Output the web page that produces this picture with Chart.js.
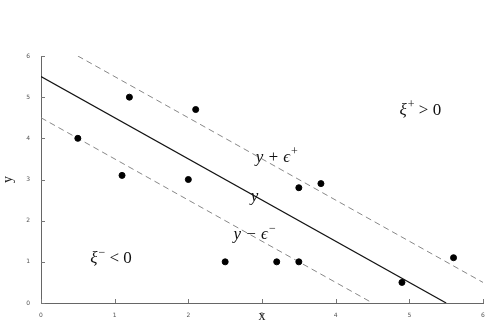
<!DOCTYPE html>
<html><head><meta charset="utf-8">
<script src="https://cdn.jsdelivr.net/npm/chart.js@4/dist/chart.umd.min.js"></script>
<style>html,body{margin:0;padding:0;background:#fff}#wrap{width:487px;height:324px}</style>
</head><body><div id="wrap"><canvas id="c" width="487" height="324"></canvas></div>
<script>
const pointsX = [0.5, 1.1, 1.2, 2.0, 2.1, 2.5, 3.2, 3.5, 3.5, 3.8, 4.9, 5.6];
const pointsY = [4.0, 3.1, 5.0, 3.0, 4.7, 1.0, 1.0, 1.0, 2.8, 2.9, 0.5, 1.1];
const regX = [0, 5.5];      const regY = [5.5, 0];
const upperX = [0.5, 6];    const upperY = [6, 0.5];
const lowerX = [0, 4.5];    const lowerY = [4.5, 0];
const xTicks = [0, 1, 2, 3, 4, 5, 6];
const yTicks = [0, 1, 2, 3, 4, 5, 6];
const labels = [
  {base: 'y + ϵ', sup: '+', x: 3.2, y: 3.55},
  {base: 'y', sup: '', x: 2.9, y: 2.6},
  {base: 'y − ϵ', sup: '−', x: 2.9, y: 1.68},
  {base: 'ξ', sup: '+', rest: ' > 0', x: 5.15, y: 4.7},
  {base: 'ξ', sup: '−', rest: ' < 0', x: 0.95, y: 1.1}
];
const zip = (xs, ys) => xs.map((x, i) => ({x, y: ys[i]}));

const overlay = {
  id: 'overlay',
  afterDraw(chart) {
    const ctx = chart.ctx, xs = chart.scales.x, ys = chart.scales.y;
    const a = chart.chartArea;
    ctx.save();
    ctx.strokeStyle = '#777'; ctx.lineWidth = 1;
    ctx.beginPath();
    xTicks.forEach(v => { const p = Math.round(xs.getPixelForValue(v)) + 0.5; ctx.moveTo(p, a.bottom); ctx.lineTo(p, a.bottom - 4); });
    yTicks.forEach(v => { const p = Math.round(ys.getPixelForValue(v)) + 0.5; ctx.moveTo(a.left, p); ctx.lineTo(a.left + 4, p); });
    ctx.stroke();
    ctx.fillStyle = '#111';
    ctx.textBaseline = 'alphabetic'; ctx.textAlign = 'left';
    const fBase = 'italic 17px "Liberation Serif", "DejaVu Serif", serif';
    const fSup = '12px "Liberation Serif", "DejaVu Serif", serif';
    const fRest = '17px "Liberation Serif", "DejaVu Serif", serif';
    labels.forEach(l => {
      ctx.font = fBase; const wb = ctx.measureText(l.base).width;
      ctx.font = fSup; const ws = l.sup ? ctx.measureText(l.sup).width + 1 : 0;
      ctx.font = fRest; const wr = l.rest ? ctx.measureText(l.rest).width : 0;
      let x = xs.getPixelForValue(l.x) - (wb + ws + wr) / 2;
      const y = ys.getPixelForValue(l.y) + 5;
      ctx.font = fBase; ctx.fillText(l.base, x, y); x += wb + 1;
      if (l.sup) { ctx.font = fSup; ctx.fillText(l.sup, x, y - 7); x += ws - 1; }
      if (l.rest) { ctx.font = fRest; ctx.fillText(l.rest, x, y); }
    });
    ctx.restore();
  }
};

new Chart(document.getElementById('c'), {
  type: 'scatter',
  data: {
    datasets: [
      {data: zip(pointsX, pointsY), backgroundColor: '#000', borderColor: '#000', pointRadius: 3, pointHoverRadius: 3},
      {type: 'line', data: zip(regX, regY), borderColor: '#111', borderWidth: 1.2, pointRadius: 0, fill: false},
      {type: 'line', data: zip(upperX, upperY), borderColor: '#888', borderWidth: 1, borderDash: [6, 4], pointRadius: 0, fill: false},
      {type: 'line', data: zip(lowerX, lowerY), borderColor: '#888', borderWidth: 1, borderDash: [6, 4], pointRadius: 0, fill: false}
    ]
  },
  options: {
    responsive: false, animation: false,
    layout: {padding: {top: 56, right: 2, left: 0, bottom: 0}},
    plugins: {legend: {display: false}, tooltip: {enabled: false}},
    scales: {
      x: {
        type: 'linear', min: 0, max: 6,
        afterFit: s => { s.height = 21; },
        grid: {display: false},
        border: {display: true, color: '#666', width: 1},
        ticks: {stepSize: 1, font: {size: 6, family: 'DejaVu Sans'}, color: '#555', padding: 1, maxRotation: 0},
        title: {display: true, text: 'x', font: {size: 14, family: 'Liberation Serif'}, color: '#222', padding: {top: 0, bottom: -1}}
      },
      y: {
        type: 'linear', min: 0, max: 6,
        afterFit: s => { s.width = 41; },
        grid: {display: false},
        border: {display: true, color: '#666', width: 1},
        ticks: {stepSize: 1, font: {size: 6, family: 'DejaVu Sans'}, color: '#555', padding: 3},
        title: {display: true, text: 'y', font: {size: 14, family: 'Liberation Serif'}, color: '#222', padding: {top: 0, bottom: 12}}
      }
    }
  },
  plugins: [overlay]
});
</script>
</body></html>
